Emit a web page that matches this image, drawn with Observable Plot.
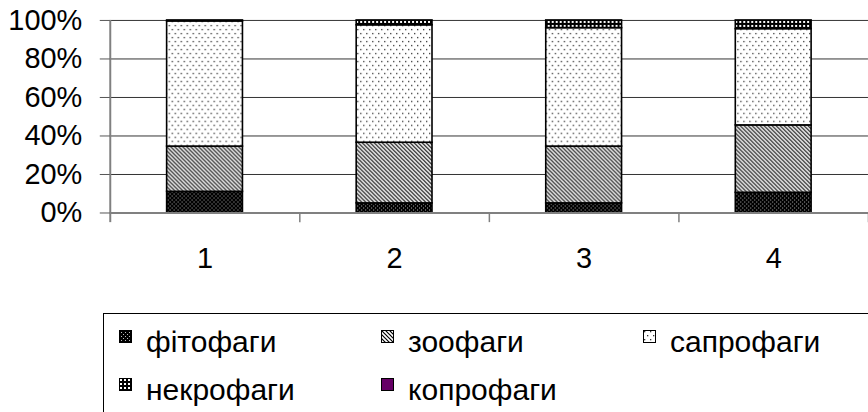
<!DOCTYPE html>
<html>
<head>
<meta charset="utf-8">
<script src="https://cdn.jsdelivr.net/npm/d3@7"></script>
<script src="https://cdn.jsdelivr.net/npm/@observablehq/plot@0.6"></script>
<style>
  html, body { margin: 0; padding: 0; background: #fff; overflow: hidden; }
  #wrap { position: relative; width: 868px; height: 412px; overflow: hidden; font-family: "Liberation Sans", Arial, sans-serif; }
  #wrap svg.plot { overflow: visible; }
  #legend { position: absolute; left: 103px; top: 313px; width: 800px; height: 120px; border-top: 1.5px solid #000; border-left: 1.5px solid #000; }
  .sw { position: absolute; overflow: visible; }
  .lbl { position: absolute; font-size: 30px; line-height: 30px; color: #000; white-space: nowrap; }
</style>
</head>
<body>
<div id="wrap"></div>
<script>
const categories = ["1", "2", "3", "4"];
const groups = ["фітофаги", "зоофаги", "сапрофаги", "некрофаги", "копрофаги"];
const fitofagy = [11, 5, 5, 10.5];
const zoofagy = [23.5, 31.5, 29.5, 35];
const saprofagy = [65, 61, 61.5, 50];
const nekrofagy = [0.5, 2.5, 4, 4.5];
const koprofagy = [0, 0, 0, 0];
const yTicks = [0, 20, 40, 60, 80, 100];

const seriesValues = [fitofagy, zoofagy, saprofagy, nekrofagy, koprofagy];
const fills = ["url(#p-fito)", "url(#p-zoo)", "url(#p-sapro)", "url(#p-nekro)", "#660066"];

const data = [];
categories.forEach((c, i) => {
  groups.forEach((g, j) => {
    if (seriesValues[j][i] > 0) data.push({cat: c, group: g, value: seriesValues[j][i]});
  });
});

const font = '"Liberation Sans", Arial, sans-serif';

const plot = Plot.plot({
  width: 870,
  height: 300,
  marginLeft: 110,
  marginRight: 0,
  marginTop: 20,
  marginBottom: 87,
  style: {fontFamily: font, fontSize: "29px", color: "#000", background: "transparent", overflow: "visible"},
  x: {domain: categories, paddingInner: 0.6, paddingOuter: 0.3, label: null},
  y: {domain: [0, 100], label: null},
  color: {type: "ordinal", domain: groups, range: fills},
  marks: [
    Plot.ruleY(yTicks.filter(d => d > 0), {stroke: "#333", strokeWidth: 1}),
    Plot.barY(data, {x: "cat", y: "value", fill: "group", order: groups, stroke: "#000", strokeWidth: 1.6}),
    Plot.ruleY([0], {stroke: "#808080", strokeWidth: 2}),
    Plot.ruleX([categories[0]], {y1: -5, y2: 100, dx: -95, stroke: "#808080", strokeWidth: 2, clip: false}),
    Plot.ruleX(categories, {y1: 0, y2: -5, dx: 95, stroke: "#808080", strokeWidth: 1.5}),
    Plot.axisY({ticks: yTicks, tickFormat: d => d + "%", tickSize: 10, tickPadding: 18, stroke: "#555", fontSize: 29}),
    Plot.axisX({tickSize: 0, tickPadding: 35, fontSize: 29})
  ]
});

// Fill patterns used by the stacked bars and legend swatches
const defs = d3.select(plot).insert("defs", ":first-child");
// фітофаги: black with light dots
const pf = defs.append("pattern").attr("id", "p-fito").attr("patternUnits", "userSpaceOnUse").attr("width", 4).attr("height", 4);
pf.append("rect").attr("width", 4).attr("height", 4).attr("fill", "#000");
pf.append("rect").attr("x", 0).attr("y", 0).attr("width", 1).attr("height", 1).attr("fill", "#bbb");
pf.append("rect").attr("x", 2).attr("y", 2).attr("width", 1).attr("height", 1).attr("fill", "#bbb");
// зоофаги: diagonal stripes
const pz = defs.append("pattern").attr("id", "p-zoo").attr("patternUnits", "userSpaceOnUse").attr("width", 4).attr("height", 4);
pz.append("rect").attr("width", 4).attr("height", 4).attr("fill", "#fff");
pz.append("path").attr("d", "M-1,-1 L5,5 M-1,3 L1,5 M3,-1 L5,1").attr("stroke", "#000").attr("stroke-width", 1.2);
// сапрофаги: white with sparse dots
const ps = defs.append("pattern").attr("id", "p-sapro").attr("patternUnits", "userSpaceOnUse").attr("width", 6).attr("height", 8);
ps.append("rect").attr("width", 6).attr("height", 8).attr("fill", "#fff");
ps.append("rect").attr("x", 1).attr("y", 1).attr("width", 1.3).attr("height", 1.3).attr("fill", "#333");
ps.append("rect").attr("x", 4).attr("y", 5).attr("width", 1.3).attr("height", 1.3).attr("fill", "#333");
// некрофаги: checker
const pn = defs.append("pattern").attr("id", "p-nekro").attr("patternUnits", "userSpaceOnUse").attr("width", 4).attr("height", 4);
pn.append("rect").attr("width", 4).attr("height", 4).attr("fill", "#000");
pn.append("rect").attr("x", 1).attr("y", 1).attr("width", 2).attr("height", 2).attr("fill", "#fff");

d3.select(plot).attr("class", (plot.getAttribute("class") || "") + " plot");
const wrap = document.getElementById("wrap");
wrap.appendChild(plot);

// Legend
const legend = document.createElement("div");
legend.id = "legend";
wrap.appendChild(legend);
const colX = [15, 277, 539];
const rowY = [15.5, 63.5];
groups.forEach((g, j) => {
  const x = colX[j % 3], y = rowY[Math.floor(j / 3)];
  const sw = d3.create("svg").attr("class", "sw").attr("width", 13).attr("height", 13)
    .style("left", x + "px").style("top", y + "px");
  sw.append("rect").attr("x", 0.5).attr("y", 0.5).attr("width", 12).attr("height", 12).attr("fill", fills[j]).attr("stroke", "#000").attr("stroke-width", 1);
  legend.appendChild(sw.node());
  const span = document.createElement("div");
  span.className = "lbl";
  span.style.left = (x + 27) + "px";
  span.style.top = (y - 3) + "px";
  span.textContent = g;
  legend.appendChild(span);
});
</script>
</body>
</html>
